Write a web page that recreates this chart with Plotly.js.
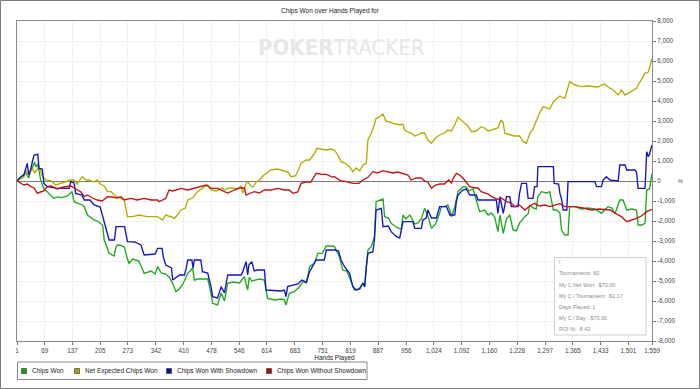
<!DOCTYPE html>
<html>
<head>
<meta charset="utf-8">
<script src="https://cdn.plot.ly/plotly-3.0.1.min.js"></script>
<style>
html,body{margin:0;padding:0;background:#fff;}
#chart{width:700px;height:389px;}
</style>
</head>
<body>
<div id="chart"></div>
<script>
// ---------------- DATA ----------------
const seriesNames = ["Chips Won", "Net Expected Chips Won", "Chips Won With Showdown", "Chips Won Without Showdown"];

const xTickHands = [1,69,137,205,273,342,410,478,546,614,683,751,819,887,956,1024,1092,1160,1228,1297,1365,1433,1501,1559];
const yTickChips = [-8000,-7000,-6000,-5000,-4000,-3000,-2000,-1000,0,1000,2000,3000,4000,5000,6000,7000,8000];

const chipsWonHands = [1,10,18,23,30,35,40,44,48,52,59,67,75,85,92,100,110,125,133,136,141,150,161,166,174,190,198,211,215,227,239,244,247,256,264,272,276,285,300,313,321,330,340,346,355,366,374,383,391,399,407,416,420,432,436,444,461,469,477,481,493,502,510,518,530,547,559,567,571,577,596,608,612,616,633,650,657,661,669,680,694,702,711,719,731,739,750,760,775,780,792,800,810,821,829,840,850,854,858,862,870,878,882,895,899,903,912,919,930,935,944,948,955,965,977,985,993,1001,1009,1018,1028,1038,1042,1050,1058,1063,1067,1075,1083,1095,1103,1110,1120,1128,1136,1148,1157,1165,1173,1181,1186,1194,1202,1210,1218,1226,1234,1247,1255,1259,1267,1275,1279,1288,1300,1308,1317,1325,1333,1337,1345,1353,1357,1370,1386,1400,1419,1435,1451,1460,1468,1480,1488,1497,1510,1521,1525,1535,1542,1546,1553,1559];
const chipsWon = [0,200,350,380,150,600,700,950,700,850,50,-400,-533,-750,-867,-800,-830,-750,-600,-530,-1033,-1100,-1200,-1283,-1700,-1950,-2000,-2200,-2950,-3617,-3750,-3300,-3200,-3220,-3300,-3900,-4117,-3900,-4000,-4617,-4550,-4500,-4650,-4283,-4600,-4650,-4800,-5117,-5533,-5400,-5200,-4800,-4617,-4350,-4950,-4900,-4900,-4900,-5617,-6117,-6200,-5600,-6000,-5117,-5050,-5100,-4783,-5450,-4800,-5000,-4900,-4950,-5450,-5867,-5950,-5900,-5950,-6200,-5617,-5550,-5300,-5033,-5100,-4283,-4100,-3617,-3617,-3250,-3250,-3283,-3783,-4450,-4500,-5033,-5450,-5400,-5100,-5300,-4283,-3450,-3283,-2783,-1033,-950,-900,-1783,-1850,-2117,-2300,-2350,-2400,-1700,-1900,-1700,-2150,-2100,-1900,-1367,-1750,-2367,-2150,-1617,-1283,-1283,-1200,-1450,-1783,-1300,-533,-283,-300,-500,-400,-950,-1533,-1450,-1700,-1600,-1800,-2533,-1700,-2617,-1900,-1700,-2450,-2500,-2100,-1783,-1650,-1200,-1350,-1400,-783,-533,-600,-533,-1450,-1450,-1600,-2450,-2700,-2700,-1283,-1283,-1400,-1350,-1400,-1617,-1283,-1350,-1650,-950,-950,-1450,-1400,-1450,-2200,-2200,-2100,-450,-400,383];

const netExpectedHands = [1,10,18,22,30,39,44,55,63,72,85,96,110,125,133,141,149,157,161,170,178,190,198,205,215,223,232,239,250,264,272,285,300,320,330,346,358,366,380,387,395,403,414,420,432,444,461,469,477,490,500,505,510,520,530,540,551,555,563,567,575,580,588,596,604,612,624,640,657,666,673,684,690,698,710,719,728,731,737,750,760,770,780,788,796,805,817,825,833,842,850,858,862,870,876,882,890,899,906,915,923,932,940,948,952,960,968,977,985,993,1001,1009,1018,1028,1038,1050,1058,1067,1075,1083,1090,1099,1107,1116,1128,1140,1148,1157,1165,1173,1181,1189,1194,1198,1210,1222,1234,1243,1251,1259,1267,1275,1283,1292,1300,1308,1317,1325,1333,1337,1345,1349,1357,1370,1386,1400,1419,1427,1435,1443,1451,1464,1476,1484,1493,1505,1513,1521,1525,1533,1542,1550,1554,1559];
const netExpected = [0,100,200,550,300,633,400,717,250,50,0,-200,-100,0,50,50,-150,100,217,50,50,-50,50,-150,-250,-533,-533,-700,-800,-950,-1783,-1783,-1700,-1783,-1783,-1783,-1950,-1700,-1800,-1867,-1700,-1450,-1350,-950,-850,-533,-283,-200,-450,-500,-400,-350,-450,-350,-350,-400,-250,-617,-133,-33,-250,-300,-50,50,250,383,550,600,500,450,217,250,500,883,1050,1050,1300,1383,1633,1600,1550,1600,1550,1300,967,900,717,467,650,500,800,883,2050,2383,2700,3133,3200,3350,3000,2950,2883,2850,2800,2850,2550,2450,2400,2250,2300,2400,2400,2050,1883,2150,2300,2400,2550,2500,2800,3183,3050,2900,2750,2467,2500,2717,2650,2500,2550,2633,2650,3050,2900,2383,2300,2250,2250,1967,1883,2383,2600,3050,3400,3717,3650,3600,3967,4133,4250,4200,4133,4400,4967,4800,4717,4750,4717,4700,4800,4850,4700,4550,4300,4550,4300,4450,4550,4633,4800,5050,5383,5450,5800,6133];

const showdownHands = [1,10,18,26,30,35,39,43,52,55,63,67,75,100,129,133,141,145,160,166,180,190,205,211,227,240,244,265,272,290,305,313,340,346,357,360,366,380,383,400,412,416,420,430,433,436,452,456,469,473,477,481,493,502,510,518,551,555,563,567,570,577,583,591,608,612,649,657,661,665,678,690,700,711,719,726,735,755,760,780,790,796,805,817,825,833,842,850,854,858,862,874,878,882,895,899,912,919,932,940,948,972,977,993,997,1005,1009,1018,1030,1038,1055,1063,1075,1079,1083,1095,1103,1112,1128,1132,1177,1181,1186,1194,1202,1210,1214,1230,1234,1239,1251,1255,1267,1271,1277,1279,1317,1319,1330,1333,1337,1341,1350,1353,1419,1423,1435,1439,1447,1456,1476,1480,1493,1497,1517,1521,1525,1542,1546,1550,1553,1559];
const showdownWon = [0,200,300,883,300,600,1000,1300,1333,633,600,-117,-283,-367,-367,-33,-100,-617,-700,-950,-950,-1200,-1300,-1783,-2950,-2950,-2283,-2283,-3033,-3050,-3200,-3700,-3650,-3367,-3367,-3800,-4200,-4350,-4950,-4700,-4700,-4367,-3950,-3950,-4350,-3950,-3950,-4533,-4600,-4950,-5283,-5783,-5850,-5283,-5600,-4700,-4700,-4533,-4033,-4700,-4200,-4033,-4500,-4450,-4450,-5450,-5500,-5450,-5783,-5283,-5200,-5150,-4950,-5050,-4533,-4300,-3950,-3950,-3450,-3450,-3500,-3950,-4300,-4617,-5283,-5450,-5400,-5100,-5283,-4283,-3617,-3550,-2950,-1450,-1367,-2283,-2250,-2533,-2783,-2850,-2033,-2033,-2367,-2367,-1950,-1850,-1450,-1850,-1850,-1283,-1283,-1700,-1700,-1033,-700,-450,-400,-700,-700,-950,-950,-1617,-783,-1617,-783,-783,-1283,-1283,-617,-117,-117,-867,-867,-283,-283,717,717,-117,-150,-617,-900,-1450,-1450,-33,-33,-283,-283,50,217,50,0,800,800,550,550,450,-367,-367,1467,1217,1350,1800];

const noShowdownHands = [1,10,18,26,35,43,51,59,67,75,85,100,115,133,141,149,158,166,174,186,198,210,223,235,247,256,264,280,296,313,330,346,350,358,366,374,383,391,403,420,436,452,465,477,493,510,518,534,547,559,563,575,583,596,608,624,641,657,669,678,690,698,710,722,731,735,750,760,775,780,796,809,825,840,850,862,874,885,899,912,923,935,950,960,968,980,993,1001,1009,1018,1028,1038,1050,1060,1067,1071,1079,1087,1095,1103,1112,1125,1132,1140,1150,1157,1165,1173,1181,1189,1202,1214,1222,1234,1247,1259,1271,1283,1296,1308,1321,1333,1345,1370,1390,1411,1430,1456,1468,1484,1497,1510,1521,1533,1546,1559];
const noShowdownWon = [0,-100,-200,-150,-283,-350,-617,-550,-500,-283,-250,-400,-300,-250,-350,-450,-550,-783,-700,-850,-950,-1000,-783,-800,-850,-783,-950,-867,-950,-870,-950,-950,-1033,-950,-870,-450,-500,-450,-367,-450,-367,-283,-200,-367,-367,-533,-600,-450,-350,-350,-700,-600,-533,-600,-450,-450,-367,-450,-450,-617,-550,-117,-50,-50,217,383,333,333,200,217,0,-33,-117,-117,50,183,467,400,517,450,400,450,350,300,50,150,150,0,-50,-367,-200,-150,-150,50,-100,133,383,300,150,-33,-283,-350,-350,-533,-600,-650,-783,-850,-917,-850,-1033,-1100,-1283,-1200,-1450,-1250,-1117,-1250,-1200,-1283,-1200,-1133,-1283,-1283,-1350,-1450,-1400,-1450,-1600,-1783,-2033,-1950,-1867,-1750,-1533,-1417];

const infoLines = ["Tournaments: 60", "My C Net Won: -$70.00", "My C / Tournament: -$1.17", "Days Played: 1", "My C / Day: -$70.00", "ROI %: -8.43"];

// ---------------- STYLE ----------------
const lineColors = ["#1fa81f", "#b3ad00", "#1515c0", "#c01414"];
const swatchColors = ["#11a011", "#a8a200", "#0b0bb0", "#b00a0a"];
const FONT = "Liberation Sans, Arial, sans-serif";

// geometry helpers (pixel -> paper) for decorations only
const L = 17, R = 48, T = 21, B = 48, W = 700, H = 389;
const PW = W - L - R, PH = H - T - B;
const px = x => (x - L) / PW;
const py = y => (H - B - y) / PH;

const dataSets = [
  [chipsWonHands, chipsWon],
  [netExpectedHands, netExpected],
  [showdownHands, showdownWon],
  [noShowdownHands, noShowdownWon]
];

const traces = dataSets.map((d, i) => ({
  type: "scatter", mode: "lines", name: seriesNames[i],
  x: d[0], y: d[1],
  line: {color: lineColors[i], width: 1.35},
  hoverinfo: "skip", showlegend: false
}));

const shapes = [];
const annotations = [];

// outer frame
shapes.push({type: "rect", xref: "paper", yref: "paper", x0: px(0.5), x1: px(699.5), y0: py(388.5), y1: py(0.5),
  line: {color: "#7a7a7a", width: 1}, fillcolor: "rgba(0,0,0,0)", layer: "above"});

// legend box
shapes.push({type: "rect", xref: "paper", yref: "paper", x0: px(17.5), x1: px(367), y0: py(379.5), y1: py(362),
  line: {color: "#8a8a8a", width: 1}, fillcolor: "#fff"});
const legendSwatchX = [24, 77, 169, 269];
const legendTextX = [29.5, 82.5, 174.5, 274.5];
seriesNames.forEach((n, i) => {
  shapes.push({type: "rect", xref: "paper", yref: "paper",
    x0: px(legendSwatchX[i] - 2.5), x1: px(legendSwatchX[i] + 2.5), y0: py(373.5), y1: py(368.5),
    line: {color: "#333", width: 0.6}, fillcolor: swatchColors[i]});
  annotations.push({xref: "paper", yref: "paper", x: px(legendTextX[i]), y: py(371), xanchor: "left", yanchor: "middle",
    text: n, showarrow: false, font: {family: FONT, size: 6.5, color: "#222"}});
});

// info box
shapes.push({type: "rect", xref: "paper", yref: "paper", x0: px(554.5), x1: px(646), y0: py(335), y1: py(257.5),
  line: {color: "#cfcfcf", width: 1}, fillcolor: "#fff", layer: "above"});
annotations.push({xref: "paper", yref: "paper", x: px(557), y: py(262), xanchor: "left", yanchor: "middle",
  text: "I", showarrow: false, font: {family: FONT, size: 5.5, color: "#e08a8a"}});
const infoY = [273, 284.5, 296, 307, 318, 329];
infoLines.forEach((t, i) => {
  annotations.push({xref: "paper", yref: "paper", x: px(557), y: py(infoY[i]), xanchor: "left", yanchor: "middle",
    text: t, showarrow: false, font: {family: FONT, size: 5.4, color: "#8a8a8a"}});
});

// watermark
annotations.push({xref: "paper", yref: "paper", x: px(256), y: py(47), xanchor: "left", yanchor: "middle",
  text: "<b>POKER</b>TRACKER", showarrow: false,
  font: {family: "DejaVu Sans Condensed, DejaVu Sans, sans-serif", size: 22, color: "#e7e7e7"}});

// small % marker right of the axis
annotations.push({xref: "paper", yref: "paper", x: px(680), y: py(181), xanchor: "center", yanchor: "middle",
  text: "%", showarrow: false, font: {family: FONT, size: 5.5, color: "#444"}});

const layout = {
  width: W, height: H,
  margin: {l: L, r: R, t: T, b: B, pad: 0},
  paper_bgcolor: "#fff", plot_bgcolor: "#fff",
  showlegend: false,
  hovermode: false,
  title: {text: "Chips Won over Hands Played for", xref: "container", yref: "container",
    x: 330 / W, xanchor: "center", y: 1 - 11 / H, yanchor: "middle",
    font: {family: FONT, size: 6.5, color: "#222"}},
  xaxis: {
    range: [1, 1559], tickmode: "array", tickvals: xTickHands,
    ticktext: xTickHands.map(v => v.toLocaleString("en-US")),
    ticks: "outside", ticklen: 3, tickcolor: "#777", tickwidth: 1,
    showline: true, linecolor: "#8a8a8a", linewidth: 1, mirror: true,
    showgrid: true, gridcolor: "#f1f1f1", gridwidth: 1, zeroline: false,
    tickfont: {family: FONT, size: 6.3, color: "#444"},
    title: {text: "Hands Played", standoff: 2, font: {family: FONT, size: 6.5, color: "#222"}}
  },
  yaxis: {
    side: "right", range: [-8000, 8000], tickmode: "array", tickvals: yTickChips,
    ticktext: yTickChips.map(v => v.toLocaleString("en-US")),
    ticks: "outside", ticklen: 3, tickcolor: "#777", tickwidth: 1,
    showline: true, linecolor: "#8a8a8a", linewidth: 1, mirror: true,
    showgrid: true, gridcolor: "#f1f1f1", gridwidth: 1,
    zeroline: true, zerolinecolor: "#7a7a7a", zerolinewidth: 1,
    tickfont: {family: FONT, size: 6.3, color: "#444"}
  },
  shapes: shapes,
  annotations: annotations
};

Plotly.newPlot("chart", traces, layout, {displayModeBar: false, staticPlot: true});
</script>
</body>
</html>
